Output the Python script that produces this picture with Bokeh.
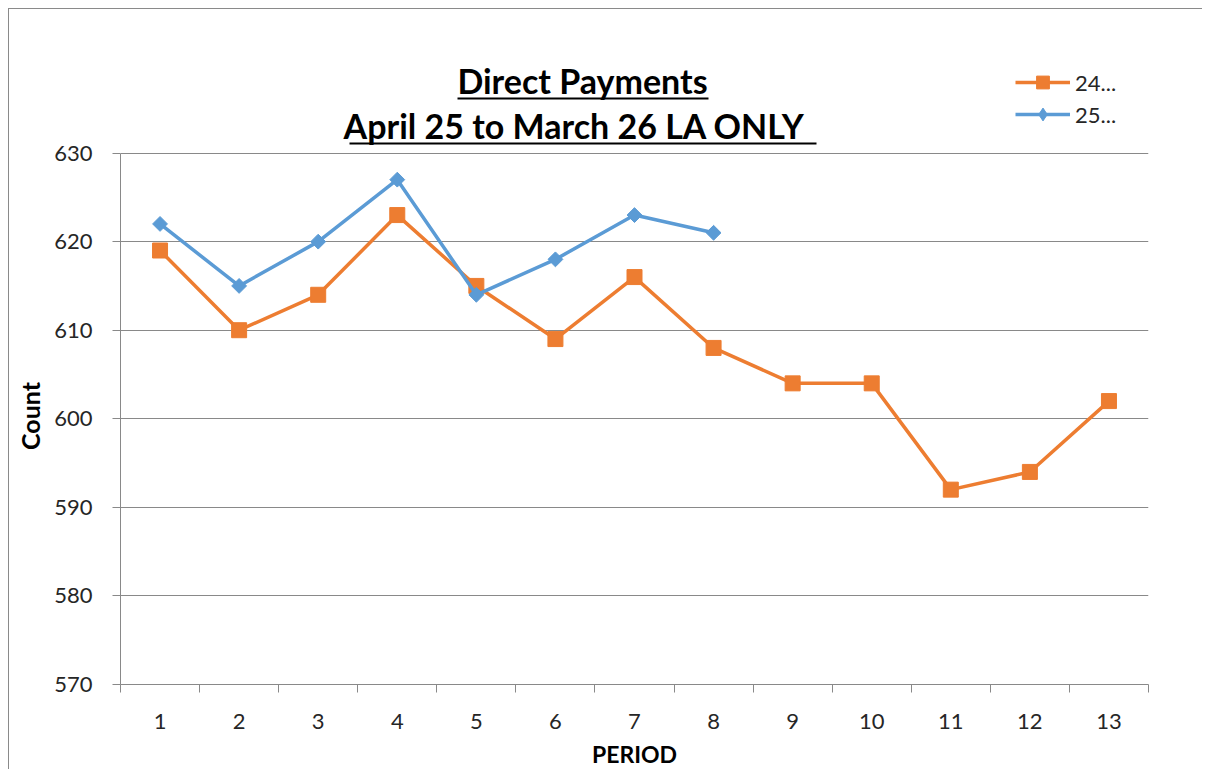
from bokeh.plotting import figure
from bokeh.models import Range1d, FixedTicker, Label, BoxAnnotation, Legend, LegendItem, Title
from bokeh.embed import file_html
from bokeh.resources import INLINE

# ---- data ----
periods = [1, 2, 3, 4, 5, 6, 7, 8, 9, 10, 11, 12, 13]
series_24_label = "24..."
series_24 = [619, 610, 614, 623, 615, 609, 616, 608, 604, 604, 592, 594, 602]
series_25_label = "25..."
series_25 = [622, 615, 620, 627, 614, 618, 623, 621]
y_ticks = [570, 580, 590, 600, 610, 620, 630]
title_line1 = "Direct Payments"
title_line2 = "April 25 to  March  26 LA ONLY"
x_title = "PERIOD"
y_title = "Count"

ORANGE = "#ED7D31"
BLUE = "#5B9BD5"
GRID = "#898989"
TXT = "#262626"
FONT = "Lato"

# ---- layout (pixels) ----
W, H = 1194, 761
LEFT, RIGHT, BOTTOM = 109, 55, 84
HEADER = 144          # space above the 630 gridline, inside the frame
PLOT_PX = H - BOTTOM - HEADER
y_lo, y_hi = y_ticks[0], y_ticks[-1]
y_top = y_hi + HEADER * (y_hi - y_lo) / PLOT_PX

p = figure(width=W, height=H, x_range=Range1d(0.5, 13.5), y_range=Range1d(y_lo, y_top),
           output_backend="svg", toolbar_location=None,
           min_border_left=LEFT, min_border_right=RIGHT,
           min_border_top=0, min_border_bottom=BOTTOM)
p.outline_line_color = None
p.background_fill_color = "white"
p.border_fill_color = "white"
p.styles = {"margin-left": "8px", "margin-top": "8px",
            "border-left": "1px solid #8a8a8a", "border-top": "1px solid #8a8a8a"}

# x axis
xa = p.xaxis[0]
xa.ticker = FixedTicker(ticks=periods, minor_ticks=[i + 0.5 for i in range(0, 14)])
xa.major_tick_out = 0
xa.major_tick_in = 0
xa.minor_tick_out = 8
xa.minor_tick_in = 0
xa.minor_tick_line_color = GRID
xa.axis_line_color = GRID
xa.major_label_text_font = FONT
xa.major_label_text_font_size = "22px"
xa.major_label_text_color = TXT
xa.major_label_standoff = 21
xa.axis_label = x_title
xa.axis_label_text_font = FONT
xa.axis_label_text_font_size = "23px"
xa.axis_label_text_font_style = "bold"
xa.axis_label_text_color = "black"
xa.axis_label_standoff = 8

# y axis
ya = p.yaxis[0]
ya.ticker = FixedTicker(ticks=y_ticks)
ya.bounds = (y_lo, y_hi)
ya.major_tick_out = 8
ya.major_tick_in = 0
ya.minor_tick_out = 0
ya.minor_tick_in = 0
ya.major_tick_line_color = GRID
ya.axis_line_color = GRID
ya.major_label_text_font = FONT
ya.major_label_text_font_size = "22px"
ya.major_label_text_color = TXT
ya.major_label_standoff = 20

# y axis title, centred on the 570-630 part of the axis
count_title = Title(text=y_title, align="left", offset=PLOT_PX / 2 - 32,
                    vertical_align="top",
                    text_font=FONT, text_font_size="25px", text_font_style="bold",
                    text_color="black", standoff=10)
p.add_layout(count_title, "left")

p.xgrid.visible = False
p.ygrid.ticker = FixedTicker(ticks=y_ticks)
p.ygrid.grid_line_color = GRID
p.ygrid.grid_line_width = 1

# series
l24 = p.line(periods, series_24, line_color=ORANGE, line_width=3.5)
s24 = p.scatter(periods, series_24, marker="square", size=15, fill_color=ORANGE, line_color=ORANGE)
x25 = periods[:len(series_25)]
l25 = p.line(x25, series_25, line_color=BLUE, line_width=3.5)
s25 = p.scatter(x25, series_25, marker="square", angle=0.785398, size=10.5, fill_color=BLUE, line_color=BLUE)
# legend-only marker (the legend draws markers unrotated)
d25 = p.scatter(x25, series_25, marker="diamond", size=15, fill_color=BLUE, line_color=BLUE, visible=False)

legend = Legend(items=[LegendItem(label=series_24_label, renderers=[l24, s24]),
                       LegendItem(label=series_25_label, renderers=[l25, d25])],
                location=(895, 554))
legend.border_line_color = None
legend.background_fill_alpha = 0
legend.padding = 0
legend.margin = 0
legend.spacing = 0
legend.glyph_width = 55
legend.glyph_height = 32
legend.label_height = 32
legend.label_standoff = 5
legend.label_text_font = FONT
legend.label_text_font_size = "22px"
legend.label_text_color = TXT
p.add_layout(legend)

# titles
t1 = Label(x=572, y=70, x_units="canvas", y_units="canvas", text=title_line1,
           text_align="center", text_baseline="middle", text_font=FONT,
           text_font_size="34px", text_font_style="bold", text_color="black")
t2 = Label(x=572, y=115, x_units="canvas", y_units="canvas", text=title_line2,
           text_align="center", text_baseline="middle", text_font=FONT,
           text_font_size="34px", text_font_style="bold", text_color="black")
p.add_layout(t1)
p.add_layout(t2)
u1 = BoxAnnotation(left=447, right=698, top=87, bottom=89, left_units="canvas", right_units="canvas",
                   top_units="canvas", bottom_units="canvas", fill_color="black", fill_alpha=1,
                   line_color=None)
u2 = BoxAnnotation(left=339, right=806, top=132, bottom=134, left_units="canvas", right_units="canvas",
                   top_units="canvas", bottom_units="canvas", fill_color="black", fill_alpha=1,
                   line_color=None)
p.add_layout(u1)
p.add_layout(u2)

open("out.html", "w").write(file_html(p, INLINE))
